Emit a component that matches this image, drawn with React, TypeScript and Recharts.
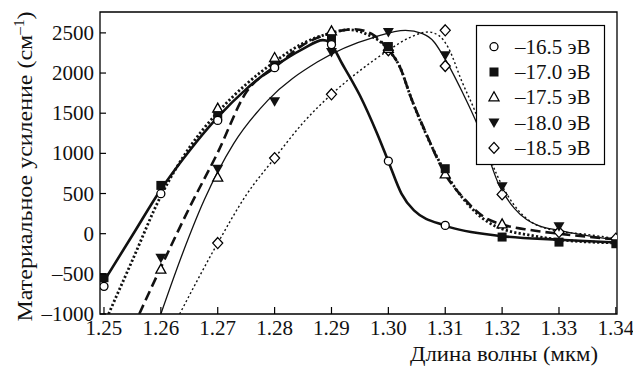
import React from "react";
import { ComposedChart, Line, Scatter, XAxis, YAxis, ReferenceArea } from "recharts";

// ---- tick labels ----
const xTicks = [1.25, 1.26, 1.27, 1.28, 1.29, 1.3, 1.31, 1.32, 1.33, 1.34];
const yTicks = [-1000, -500, 0, 500, 1000, 1500, 2000, 2500];

// ---- legend labels ----
const seriesLabels = ["–16.5 эВ", "–17.0 эВ", "–17.5 эВ", "–18.0 эВ", "–18.5 эВ"];

// ---- measured points (markers) ----
const circlePts = [[1.25, -656], [1.26, 498], [1.27, 1410], [1.28, 2067], [1.29, 2354], [1.3, 904], [1.31, 103]];
const squarePts = [[1.25, -548], [1.26, 601], [1.27, 1470], [1.28, 2096], [1.29, 2420], [1.3, 2330], [1.31, 809], [1.32, -42], [1.33, -105], [1.34, -125]];
const triUpPts = [[1.26, -448], [1.27, 697], [1.27, 1557], [1.28, 2187], [1.29, 2519], [1.3, 2300], [1.31, 738], [1.32, 116]];
const triDownPts = [[1.26, -299], [1.27, 809], [1.28, 1648], [1.29, 2262], [1.3, 2511], [1.31, 2220], [1.32, 589], [1.33, 91]];
const diamondPts = [[1.27, -117], [1.28, 941], [1.29, 1735], [1.3, 2283], [1.31, 2532], [1.31, 2087], [1.32, 489], [1.33, 20], [1.34, -62]];

// ---- fitted curves ----
const curveThickSolid = [[1.25, -590], [1.255, -20], [1.26, 550], [1.265, 1030], [1.27, 1450], [1.275, 1800], [1.28, 2080], [1.285, 2300], [1.2885, 2410], [1.2895, 2390], [1.292, 2100], [1.295, 1720], [1.298, 1250], [1.3, 900], [1.3023, 500], [1.3045, 290], [1.31, 100], [1.32, -30], [1.33, -75], [1.34, -110]];
const curveThickDotted = [[1.2508, -1000], [1.255, -330], [1.26, 470], [1.265, 1070], [1.27, 1510], [1.275, 1860], [1.28, 2140], [1.285, 2370], [1.29, 2500], [1.293, 2540], [1.296, 2490], [1.2999, 2300], [1.302, 2080], [1.304, 1690], [1.3065, 1260], [1.3098, 790], [1.3134, 415], [1.3174, 150], [1.32, 60], [1.325, -20], [1.33, -75], [1.34, -115]];
const curveDashed = [[1.2562, -1000], [1.26, -420], [1.265, 320], [1.27, 1010], [1.275, 1760], [1.28, 2070], [1.285, 2350], [1.29, 2500], [1.294, 2545], [1.297, 2490], [1.2999, 2300], [1.302, 2080], [1.304, 1690], [1.3065, 1270], [1.31, 740], [1.3134, 430], [1.317, 200], [1.32, 115], [1.325, 45], [1.33, 0], [1.34, -70]];
const curveThinSolid = [[1.26, -1000], [1.2638, -250], [1.2676, 415], [1.2728, 1121], [1.2788, 1660], [1.2875, 2137], [1.2976, 2448], [1.303, 2530], [1.306, 2490], [1.308, 2390], [1.3096, 2220], [1.313, 1763], [1.3157, 1349], [1.3195, 601], [1.3222, 311], [1.3263, 103], [1.33, 41], [1.34, -80]];
const curveThinDotted = [[1.2633, -1000], [1.27, -117], [1.275, 480], [1.28, 941], [1.285, 1380], [1.29, 1735], [1.295, 2030], [1.3, 2283], [1.304, 2450], [1.307, 2511], [1.309, 2460], [1.3105, 2320], [1.3129, 1900], [1.3158, 1420], [1.3181, 900], [1.32, 600], [1.324, 207], [1.3291, 41], [1.335, -10], [1.34, -60]];

const toObj = (arr: number[][]) => arr.map(([x, y]) => ({ x, y }));

const FONT = "Liberation Serif";
const TXT: React.CSSProperties = { fontFamily: FONT, fontSize: 21 };
const TITLE: React.CSSProperties = { fontFamily: FONT, fontSize: 22 };
const X_MIN = 1.2493;
const X_MAX = 1.3402;
const Y_MIN = -1000;
const Y_MAX = 2760;

const Circle = ({ cx, cy }: any) => <circle cx={cx} cy={cy} r={4} fill="#fff" stroke="#000" strokeWidth={1.3} />;
const Square = ({ cx, cy }: any) => <rect x={cx - 4.5} y={cy - 4.5} width={9} height={9} fill="#111" />;
const TriUp = ({ cx, cy }: any) => (
  <polygon points={`${cx},${cy - 5.5} ${cx + 5},${cy + 3.5} ${cx - 5},${cy + 3.5}`} fill="#fff" stroke="#000" strokeWidth={1.3} />
);
const TriDown = ({ cx, cy }: any) => (
  <polygon points={`${cx - 5.5},${cy - 4} ${cx + 5.5},${cy - 4} ${cx},${cy + 5.5}`} fill="#111" />
);
const Diamond = ({ cx, cy }: any) => (
  <polygon points={`${cx},${cy - 5.5} ${cx + 5},${cy} ${cx},${cy + 5.5} ${cx - 5},${cy}`} fill="#fff" stroke="#000" strokeWidth={1.3} />
);

const markers = [Circle, Square, TriUp, TriDown, Diamond];

const XTick = ({ x, y, payload }: any) => (
  <g>
    <line x1={x} y1={y} x2={x} y2={y - 7} stroke="#000" strokeWidth={1.2} />
    <text x={x} y={y + 21} textAnchor="middle" style={TXT} fill="#111">
      {Number(payload.value).toFixed(2)}
    </text>
  </g>
);
const YTick = ({ x, y, payload }: any) => (
  <g>
    <line x1={x} y1={y} x2={x + 6} y2={y} stroke="#000" strokeWidth={1.2} />
    <text x={x - 6} y={y + 7} textAnchor="end" style={TXT} fill="#111">
      {payload.value < 0 ? "–" + Math.abs(payload.value) : String(payload.value)}
    </text>
  </g>
);

export default function App() {
  return (
    <div style={{ position: "absolute", left: 0, top: 0, width: 633, height: 373, background: "#fff" }}>
      <ComposedChart width={633} height={373} margin={{ top: 12, right: 16, bottom: 29, left: 40 }}>
        <XAxis
          type="number"
          dataKey="x"
          domain={[X_MIN, X_MAX]}
          ticks={xTicks}
          allowDataOverflow
          axisLine={false}
          tickLine={false}
          tickSize={0}
          tickMargin={0}
          tick={<XTick />}
          interval={0}
        />
        <YAxis
          type="number"
          dataKey="y"
          domain={[Y_MIN, Y_MAX]}
          ticks={yTicks}
          allowDataOverflow
          axisLine={false}
          tickLine={false}
          tickSize={0}
          tickMargin={0}
          tick={<YTick />}
          width={60}
          interval={0}
        />
        <ReferenceArea x1={X_MIN} x2={X_MAX} y1={Y_MIN} y2={Y_MAX} fill="none" stroke="#000" strokeWidth={1.3} ifOverflow="visible" />
        <Line data={toObj(curveThinDotted)} dataKey="y" type="monotone" stroke="#111" strokeWidth={1.4} strokeDasharray="2 2.5" dot={false} isAnimationActive={false} />
        <Line data={toObj(curveThinSolid)} dataKey="y" type="monotone" stroke="#111" strokeWidth={1.3} dot={false} isAnimationActive={false} />
        <Line data={toObj(curveDashed)} dataKey="y" type="monotone" stroke="#111" strokeWidth={2.6} strokeDasharray="10 5" dot={false} isAnimationActive={false} />
        <Line data={toObj(curveThickDotted)} dataKey="y" type="monotone" stroke="#111" strokeWidth={2.8} strokeDasharray="2.2 2.2" dot={false} isAnimationActive={false} />
        <Line data={toObj(curveThickSolid)} dataKey="y" type="monotone" stroke="#111" strokeWidth={2.6} dot={false} isAnimationActive={false} />
        <Scatter data={toObj(diamondPts)} dataKey="y" shape={<Diamond />} isAnimationActive={false} />
        <Scatter data={toObj(triDownPts)} dataKey="y" shape={<TriDown />} isAnimationActive={false} />
        <Scatter data={toObj(triUpPts)} dataKey="y" shape={<TriUp />} isAnimationActive={false} />
        <Scatter data={toObj(squarePts)} dataKey="y" shape={<Square />} isAnimationActive={false} />
        <Scatter data={toObj(circlePts)} dataKey="y" shape={<Circle />} isAnimationActive={false} />
      </ComposedChart>
      <svg width={633} height={373} style={{ position: "absolute", left: 0, top: 0, pointerEvents: "none" }}>
        <text
          transform="translate(32,166.5) rotate(-90)"
          x={-155}
          y={0}
          textLength={310}
          lengthAdjust="spacingAndGlyphs"
          style={TITLE}
          fill="#111"
        >
          Материальное усиление (см<tspan dy={-8} style={{ fontSize: 14 }}>–1</tspan><tspan dy={8}>)</tspan>
        </text>
        <text x={410} y={361} textLength={188} lengthAdjust="spacingAndGlyphs" style={TITLE} fill="#111">
          Длина волны (мкм)
        </text>
        <rect x={476.5} y={25.5} width={128} height={139} fill="#fff" stroke="#000" strokeWidth={1.2} />
        {seriesLabels.map((lab, i) => {
          const cy = 46.7 + i * 25.3;
          const M = markers[i];
          return (
            <g key={lab}>
              <M cx={494} cy={cy} />
              <text x={515} y={cy + 7} style={TXT} fill="#111">
                {lab}
              </text>
            </g>
          );
        })}
      </svg>
    </div>
  );
}
